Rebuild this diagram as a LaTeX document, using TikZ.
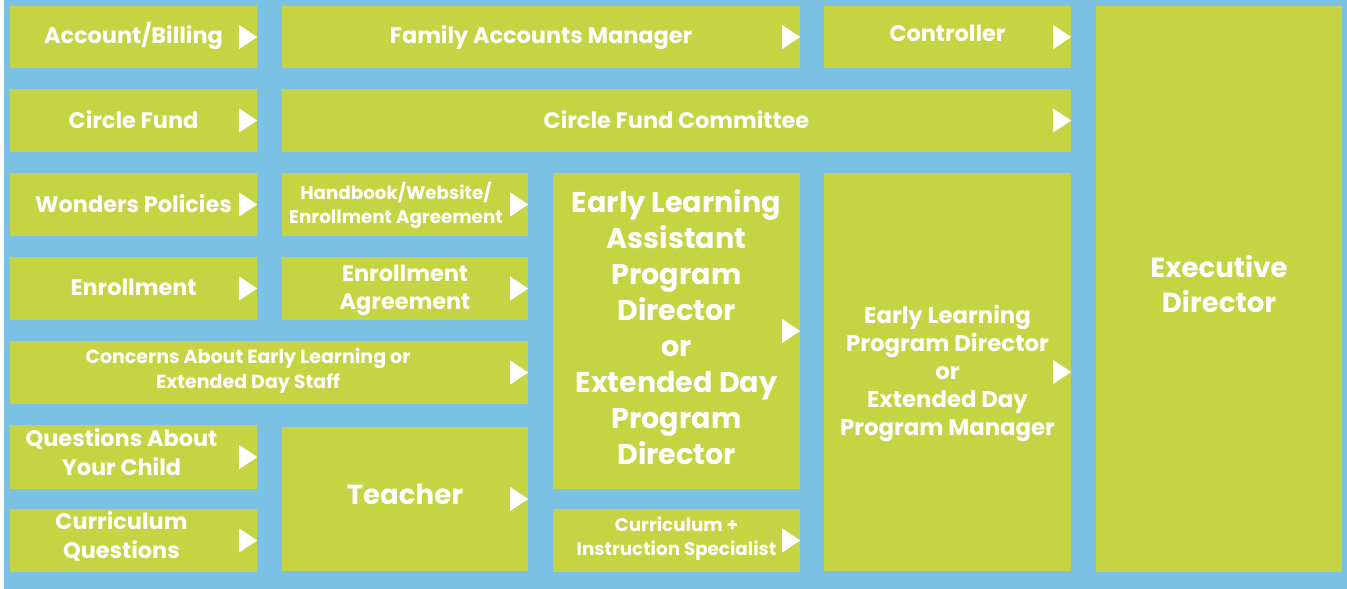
\documentclass[tikz,border=0pt]{standalone}
\usepackage{fontspec}
\setmainfont{Poppins}
\definecolor{bgblue}{RGB}{123,193,227}
\definecolor{boxgreen}{RGB}{196,212,66}
\tikzset{
  box/.style={fill=boxgreen, inner sep=0pt},
  boxtext/.style={inner sep=0pt, text=white, align=center},
  fnormal/.style={font=\fontsize{22.4}{28.5}\selectfont\bfseries},
  fsmall/.style={font=\fontsize{18.3}{24.5}\selectfont\bfseries},
  fconc/.style={font=\fontsize{19}{25}\selectfont\bfseries},
  fbig/.style={font=\fontsize{28.6}{36}\selectfont\bfseries},
  fed/.style={font=\fontsize{27.6}{35}\selectfont\bfseries},
  fmid/.style={font=\fontsize{22.8}{28}\selectfont\bfseries},
}
\newcommand{\tri}[1]{\fill[white] ([xshift=-18pt,yshift=12pt]#1.east) -- (#1.east) -- ([xshift=-18pt,yshift=-12pt]#1.east) -- cycle;}
\newcommand{\bx}[8]{% name, x1, y1, x2, y2, style, raise, text
  \node[box,minimum width={(#4-#2)*1pt},minimum height={(#5-#3)*1pt}] (#1) at ({(#2+#4)/2},{(#3+#5)/2}) {};
  \node[boxtext,#6] (#1-t) at ([yshift=#7pt]#1.center) {#8};}
\begin{document}
\begin{tikzpicture}[x=1pt,y=-1pt]
\useasboundingbox (0,0) rectangle (1347,589);
\fill[white] (0,0) rectangle (1347,589);
\fill[bgblue] (4,0) rectangle (1347,589);
% column 1
\bx{acc}{10}{6}{257}{68}{fnormal}{1}{Account/Billing}
\bx{cf}{10}{89}{257}{152}{fnormal}{1}{Circle Fund}
\bx{wp}{10}{173}{257}{236}{fnormal}{1}{Wonders Policies}
\bx{enr}{10}{257}{257}{320}{fnormal}{1}{Enrollment}
\bx{conc}{10}{341}{528}{404}{fconc,xshift=-21pt}{2}{Concerns About Early Learning or\\Extended Day Staff}
\bx{qyc}{10}{425}{257}{489}{fnormal,xshift=-12pt}{5}{Questions About\\Your Child}
\bx{cq}{10}{509}{257}{572}{fnormal,xshift=-12pt}{4}{Curriculum\\Questions}
% column 2
\bx{fam}{282}{6}{800}{68}{fnormal}{-1}{Family Accounts Manager}
\bx{cfc}{282}{89}{1071}{152}{fnormal}{1}{Circle Fund Committee}
\bx{hb}{282}{173}{528}{236}{fsmall,xshift=-9pt}{-1}{Handbook/Website/\\Enrollment Agreement}
\bx{ea}{282}{257}{528}{320}{fnormal}{-2}{Enrollment\\Agreement}
\bx{tea}{282}{427}{528}{571}{fed}{5}{Teacher}
% column 3
\bx{ela}{553}{173}{800}{489}{fbig}{4}{Early Learning\\Assistant\\Program\\Director\\or\\Extended Day\\Program\\Director}
\bx{cis}{553}{509}{800}{572}{fsmall}{2}{Curriculum +\\Instruction Specialist}
% column 4
\bx{ctl}{824}{6}{1071}{68}{fnormal}{4}{Controller}
\bx{elp}{824}{173}{1071}{571}{fmid}{-1}{Early Learning\\Program Director\\or\\Extended Day\\Program Manager}
% executive
\bx{ed}{1096}{6}{1342}{572}{fed}{5}{Executive\\Director}
% arrows
\tri{acc}\tri{cf}\tri{wp}\tri{enr}\tri{conc}\tri{qyc}\tri{cq}
\tri{fam}\tri{cfc}\tri{hb}\tri{ea}\tri{tea}
\tri{ela}\tri{cis}\tri{ctl}\tri{elp}
\end{tikzpicture}
\end{document}
